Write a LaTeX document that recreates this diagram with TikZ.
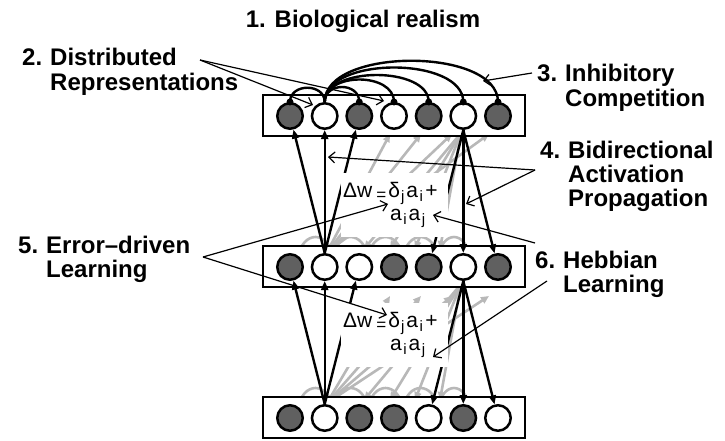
\documentclass[tikz,border=0pt]{standalone}
\usepackage{fontspec}
\setmainfont{Liberation Sans}
\usetikzlibrary{arrows.meta}
\definecolor{unitdark}{RGB}{96,96,96}
\definecolor{backline}{RGB}{184,184,184}
% numbered label with hanging indent
\newcommand{\lbl}[2]{\fontsize{24}{23.5}\selectfont\bfseries\begin{tabular}[t]{@{}p{28pt}@{}l@{}}#1&#2\end{tabular}}
% lowered index in the learning rule
\newcommand{\idx}[1]{\raisebox{-4pt}{\fontsize{15}{15}\selectfont #1}}
\begin{document}
\begin{tikzpicture}[x=1pt,y=-1pt,
  unit/.style={circle,draw,line width=2.5pt,minimum size=25.5pt,inner sep=0pt},
  on/.style={unit,fill=unitdark},
  off/.style={unit,fill=white},
  layerbox/.style={draw,line width=2.6pt,fill=white},
  syn/.style={circle,fill=black,minimum size=7pt,inner sep=0pt},
  fwd/.style={line width=2.4pt,-{Triangle[length=9pt,width=7pt]}},
  inh/.style={line width=2.4pt},
  back/.style={line width=2.6pt,backline,-{Triangle[length=8pt,width=7pt]}},
  backarc/.style={line width=2.6pt,backline},
  note/.style={line width=1.2pt,-{Straight Barb[length=6pt,width=11pt]}},
  lab/.style={inner sep=0pt,anchor=base west},
  eqbg/.style={fill=white,inner sep=0pt,anchor=north west},
  eqtxt/.style={inner sep=0pt,anchor=base west,font=\fontsize{21}{22}\selectfont}
]
\useasboundingbox (0,0) rectangle (725,441);

% ---- back connections (light grey, partly hidden by the layers) ----
\foreach \dy/\ty in {0/134,151/296}{
  \foreach \tx in {390,421,452,489}
    \draw[back] (327,252+\dy) -- (\tx,\ty);
  \foreach \tx in {364,390,415,440}
    \draw[back] (461,133+\dy) -- (\tx,249+\dy);
  \foreach \xa/\xb in {298/333,333/368,368/403,403/438,438/470}
    \draw[backarc] (\xa,258+\dy) .. controls (\xa+4,230+\dy) and (\xb-4,230+\dy) .. (\xb,258+\dy);
}

% ---- layers ----
\foreach \ly in {116,267,418}
  \draw[layerbox] (263,\ly-21) rectangle (525,\ly+20);

% top layer
\node[on]  (t1) at (290,116) {};
\node[off] (t2) at (324.7,116) {};
\node[on]  (t3) at (359.3,116) {};
\node[off] (t4) at (394,116) {};
\node[on]  (t5) at (428.7,116) {};
\node[off] (t6) at (463.3,116) {};
\node[on]  (t7) at (498,116) {};
% middle layer
\node[on]  (m1) at (290,267) {};
\node[off] (m2) at (324.7,267) {};
\node[off] (m3) at (359.3,267) {};
\node[on]  (m4) at (394,267) {};
\node[on]  (m5) at (428.7,267) {};
\node[off] (m6) at (463.3,267) {};
\node[on]  (m7) at (498,267) {};
% bottom layer
\node[on]  (b1) at (290,418) {};
\node[off] (b2) at (324.7,418) {};
\node[on]  (b3) at (359.3,418) {};
\node[on]  (b4) at (394,418) {};
\node[off] (b5) at (428.7,418) {};
\node[on]  (b6) at (463.3,418) {};
\node[off] (b7) at (498,418) {};

% ---- inhibitory synapses and arcs on the top layer ----
\foreach \u in {t1,t3,t4,t5,t6,t7}
  \node[syn] (s\u) at (\u.north) {};
\draw[inh] (st1.center) .. controls (290,83) and (324.7,83) .. (t2.north);
\draw[inh] (t2.north) .. controls (324.7,82) and (359.3,82) .. (st3.center);
\draw[inh] (t2.north) .. controls (324.7,72) and (394,72) .. (st4.center);
\draw[inh] (t2.north) .. controls (324.7,66) and (428.7,66) .. (st5.center);
\draw[inh] (t2.north) .. controls (324.7,56) and (463.3,56) .. (st6.center);
\draw[inh] (t2.north) .. controls (324.7,47) and (498,47) .. (st7.center);

% ---- bottom-up and top-down projections ----
\draw[fwd] (m2.north) -- (t1);
\draw[fwd] (m2.north) -- (t2);
\draw[fwd] (m2.north) -- (t3);
\draw[fwd] (t6.south) -- (m5);
\draw[fwd] (t6.south) -- (m6);
\draw[fwd] (t6.south) -- (m7);
\draw[fwd] (b2.north) -- (m1);
\draw[fwd] (b2.north) -- (m2);
\draw[fwd] (b2.north) -- (m3);
\draw[fwd] (m6.south) -- (b5);
\draw[fwd] (m6.south) -- (b6);
\draw[fwd] (m6.south) -- (b7);

% ---- learning rule (white panel hides what runs behind it) ----
\foreach \r/\y in {1/173,2/303}{
  \node[eqbg,minimum width=107pt,minimum height=64pt] (rule\r) at (341,\y) {};
  \node[eqtxt] (rule\r a) at (343,\y+24)
    {Δw\hspace{4pt}\raisebox{-3pt}{\fontsize{17}{17}\selectfont=}\hspace{2pt}δ\hspace{1pt}\idx{j}\hspace{2pt}a\hspace{1.5pt}\idx{i}\hspace{2.5pt}+};
  \node[eqtxt] (rule\r b) at (390,\y+47)
    {a\hspace{1.5pt}\idx{i}\hspace{2pt}a\hspace{1.5pt}\idx{j}};
}

% ---- labels ----
\node[lab,anchor=base] (l1) at (363,28) {\fontsize{24}{23.5}\selectfont\bfseries 1. Biological realism};
\node[lab] (l2) at (22,66) {\lbl{2.}{Distributed\\&Representations}};
\node[lab] (l3) at (537,82) {\lbl{3.}{Inhibitory\\&Competition}};
\node[lab] (l4) at (540,158) {\lbl{4.}{Bidirectional\\&Activation\\&Propagation}};
\node[lab] (l5) at (18,253) {\lbl{5.}{Error--driven\\&Learning}};
\node[lab] (l6) at (535,268) {\lbl{6.}{Hebbian\\&Learning}};

% ---- annotation arrows ----
\coordinate (c2) at (200,60);
\coordinate (c3) at (532,73);
\coordinate (c4) at (535,170);
\coordinate (c5) at (203,257);
\coordinate (c6a) at (535,243);
\coordinate (c6b) at (547,281);
\draw[note] (c2) -- (313,105);
\draw[note] (c2) -- (384,101);
\draw[note] (c3) -- (483,81);
\draw[note] (c4) -- (328,157);
\draw[note] (c4) -- (466,204);
\draw[note] (c5) -- (388,204);
\draw[note] (c5) -- (387,315);
\draw[note] (c6a) -- (433,215);
\draw[note] (c6b) -- (433,357);
\end{tikzpicture}
\end{document}
